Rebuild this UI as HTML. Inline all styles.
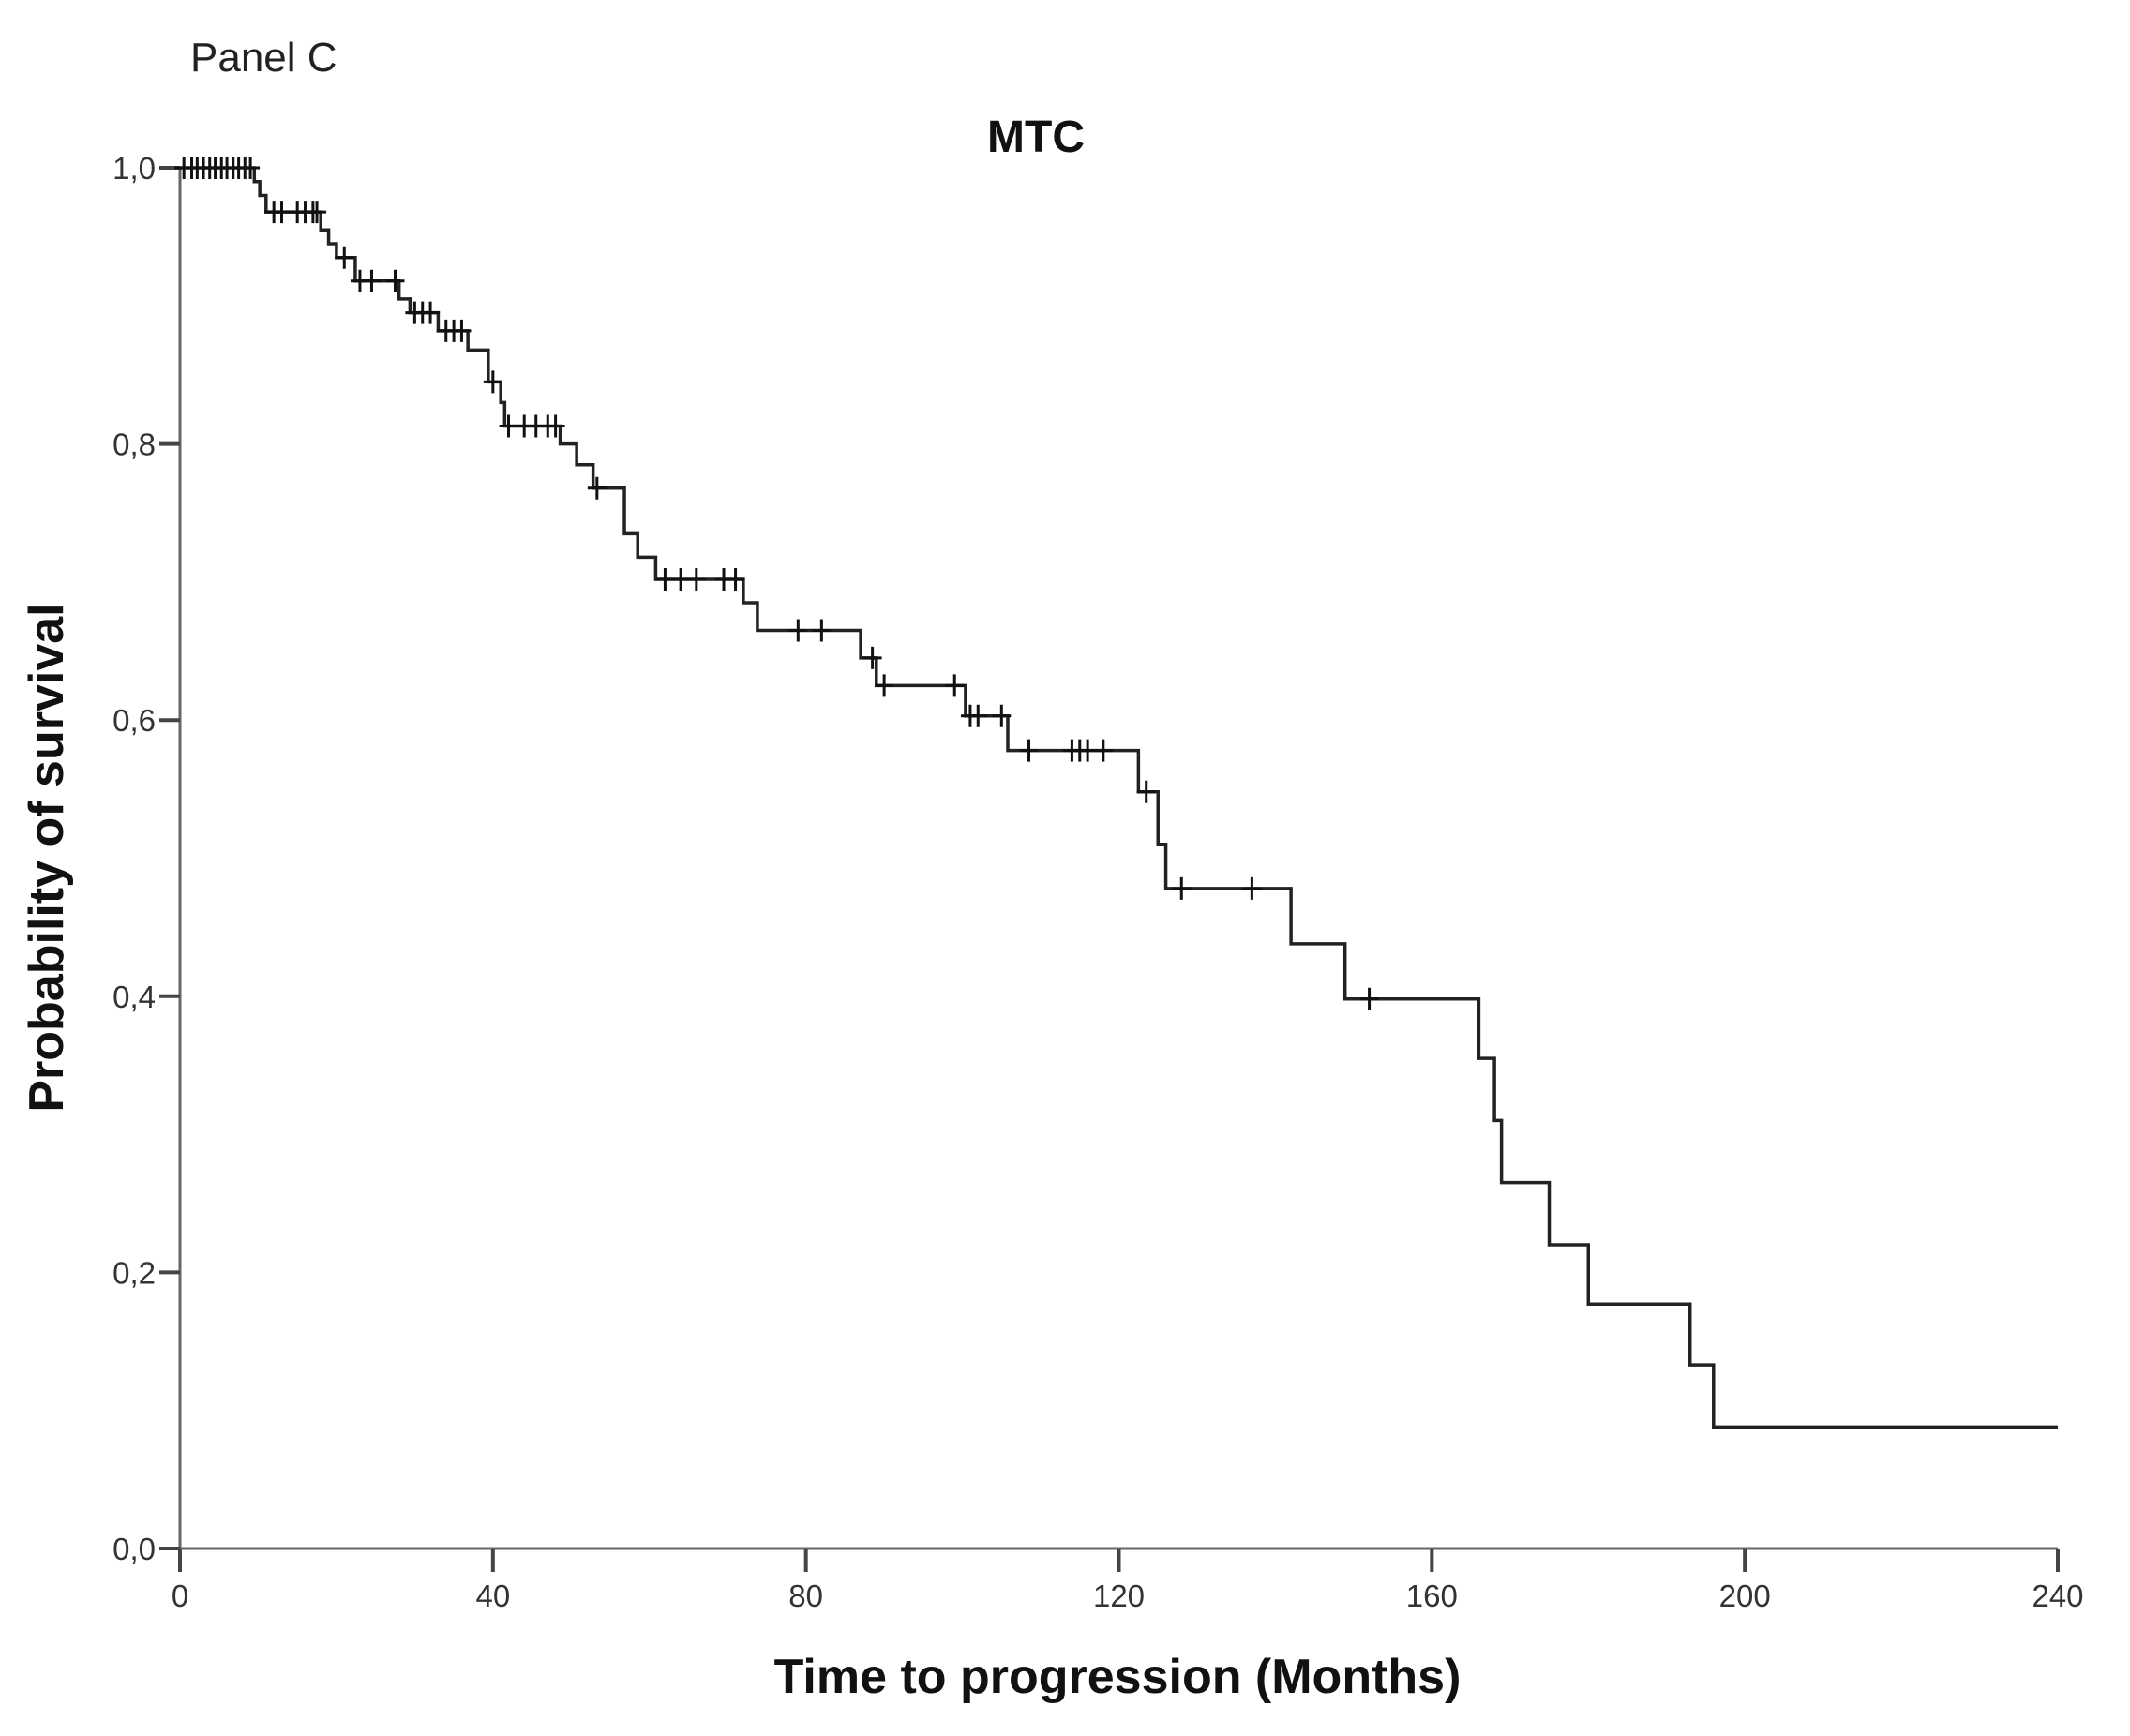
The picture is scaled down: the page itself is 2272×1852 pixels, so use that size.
<!DOCTYPE html>
<html><head><meta charset="utf-8"><style>
html,body{margin:0;padding:0;background:#fff;}
svg{display:block;}
</style></head><body>
<svg width="2272" height="1852" viewBox="0 0 2272 1852" xmlns="http://www.w3.org/2000/svg">
<text x="203" y="76" font-family="Liberation Sans, sans-serif" font-size="44" fill="#222">Panel C</text>
<text x="1105" y="162" text-anchor="middle" font-family="Liberation Sans, sans-serif" font-weight="bold" font-size="48" fill="#111">MTC</text>
<text x="1192" y="1806" text-anchor="middle" font-family="Liberation Sans, sans-serif" font-weight="bold" font-size="52" fill="#111">Time to progression (Months)</text>
<text transform="translate(67,915) rotate(-90)" text-anchor="middle" font-family="Liberation Sans, sans-serif" font-weight="bold" font-size="52" fill="#111">Probability of survival</text>
<g id="axes"></g>
<g id="curve"></g>
<g id="marks"></g>
</svg>
<script>
const xTicks = [0, 40, 80, 120, 160, 200, 240];
const yTicks = [0, 0.2, 0.4, 0.6, 0.8, 1.0];
const yTickLabels = ["0,0", "0,2", "0,4", "0,6", "0,8", "1,0"];
const eventTimes = [9.5, 10.2, 11, 18, 19, 20, 22.4, 28, 29.4, 33, 36.8, 39.4, 41, 41.5, 48.6, 50.7, 52.8, 56.8, 58.5, 60.8, 72, 73.8, 87, 89, 100.4, 105.8, 122.5, 125, 126, 142, 148.9, 166, 168, 168.9, 175, 180, 193, 196];
const survivalAfter = [0.99, 0.98, 0.968, 0.955, 0.945, 0.935, 0.918, 0.905, 0.895, 0.882, 0.868, 0.845, 0.83, 0.813, 0.80, 0.785, 0.768, 0.735, 0.718, 0.702, 0.685, 0.665, 0.645, 0.625, 0.603, 0.578, 0.548, 0.51, 0.478, 0.438, 0.398, 0.355, 0.31, 0.265, 0.22, 0.177, 0.133, 0.088];
const censorTimes = [0.5, 1.5, 2.2, 3, 3.8, 4.5, 5.3, 6, 6.8, 7.5, 8.3, 9, 12, 13, 15, 16, 17, 17.5, 21, 23, 24.5, 27.5, 30, 31, 32, 34, 35, 36, 40, 42, 44, 45.5, 47, 48, 53.3, 62, 64, 66, 69.5, 71, 79, 82, 88.5, 90, 99, 101, 102, 105, 108.5, 114, 115, 116, 118, 123.5, 128, 137, 152];
const maxTime = 240;

const X0 = 192, X1 = 2195, Y0 = 1652, Y1 = 179;
const xs = t => X0 + (t / 240) * (X1 - X0);
const ys = v => Y0 - v * (Y0 - Y1);
const NS = 'http://www.w3.org/2000/svg';
function surv(t){ let s = 1; for (let i = 0; i < eventTimes.length; i++){ if (eventTimes[i] <= t) s = survivalAfter[i]; } return s; }
function mk(tag, attrs, parent){ const e = document.createElementNS(NS, tag); for (const k in attrs) e.setAttribute(k, attrs[k]); parent.appendChild(e); return e; }

const axes = document.getElementById('axes');
const xl = mk('line', {x1: X0, y1: Y0, x2: X1, y2: Y0, stroke: '#666', 'stroke-width': 3}, axes);


const yl = mk('line', {x1: X0, y1: Y0, x2: X0, y2: Y1, stroke: '#666', 'stroke-width': 3}, axes);


xTicks.forEach(t => {
  const tk = mk('line', {x1: xs(t), y1: Y0, x2: xs(t), y2: Y0 + 25, stroke: '#444', 'stroke-width': 4}, axes);
  
  
  const lb = mk('text', {x: xs(t), y: Y0 + 62, 'text-anchor': 'middle', 'font-family': 'Liberation Sans, sans-serif', 'font-size': 33, fill: '#333'}, axes);
  lb.textContent = String(t);
  
  
});
yTicks.forEach((v, i) => {
  const tk = mk('line', {x1: X0 - 22, y1: ys(v), x2: X0, y2: ys(v), stroke: '#444', 'stroke-width': 4}, axes);
  
  
  const lb = mk('text', {x: X0 - 26, y: ys(v) + 12, 'text-anchor': 'end', 'font-family': 'Liberation Sans, sans-serif', 'font-size': 33, fill: '#333'}, axes);
  lb.textContent = yTickLabels[i];
  
  
});

let d = 'M' + xs(0) + ' ' + ys(1);
eventTimes.forEach((t, i) => { d += ' H' + xs(t) + ' V' + ys(survivalAfter[i]); });
d += ' H' + xs(maxTime);
const path = mk('path', {d: d, fill: 'none', stroke: '#222', 'stroke-width': 3.5}, document.getElementById('curve'));



const marks = document.getElementById('marks');
censorTimes.forEach(t => {
  const cx = xs(t), cy = ys(surv(t));
  const g = mk('path', {d: 'M' + (cx - 10) + ' ' + cy + ' H' + (cx + 10) + ' M' + cx + ' ' + (cy - 12) + ' V' + (cy + 12), stroke: '#111', 'stroke-width': 3, fill: 'none'}, marks);
  
  
});
</script>
</body></html>
